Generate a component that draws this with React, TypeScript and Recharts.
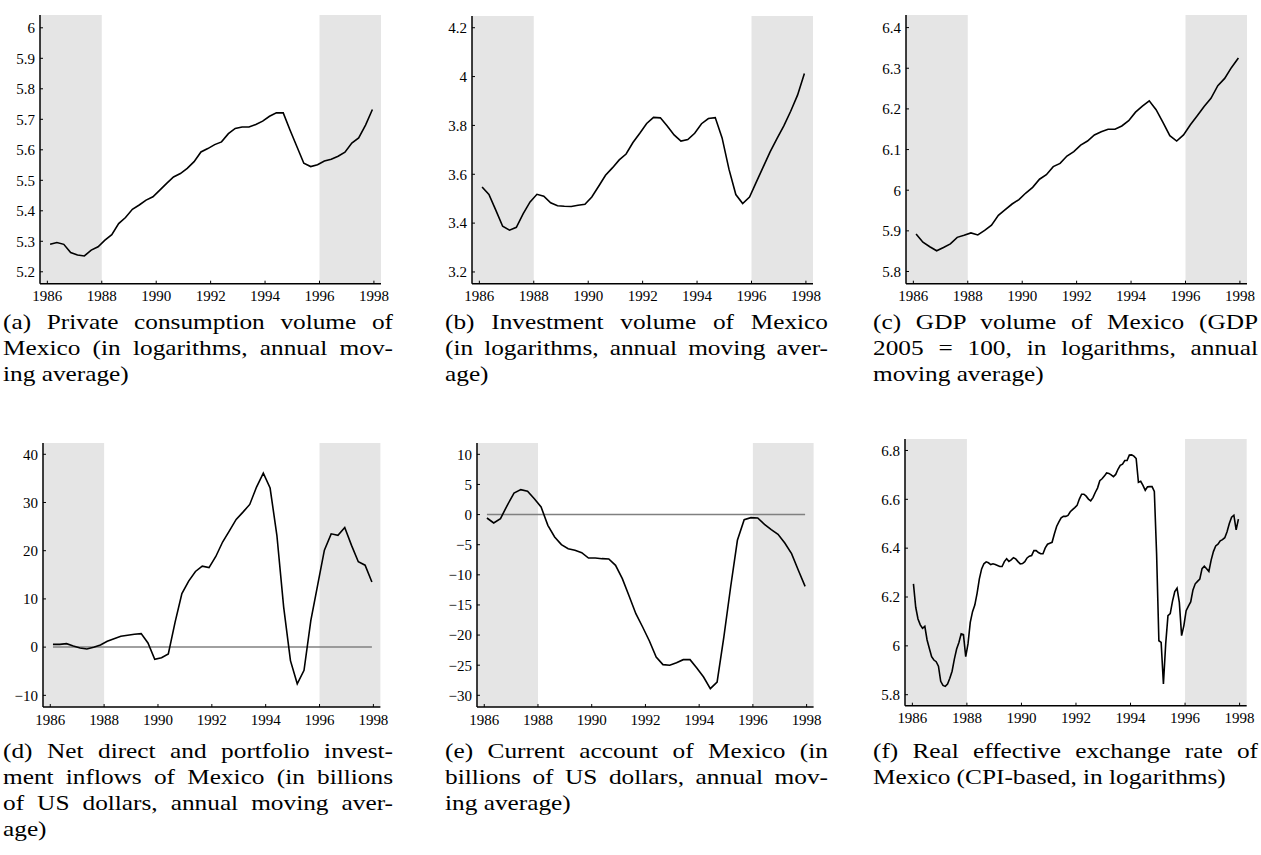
import React from 'react';
import { LineChart, Line, XAxis, YAxis, ReferenceArea, ReferenceLine } from 'recharts';

// quarterly observations (annual moving averages), first quarter of 1986 to last of 1997
const QUARTERS = Array.from({ length: 48 }, (_, i) => 1986.1 + i * 0.252);
// monthly observations, Jan 1986 to Dec 1997
const MONTHS = Array.from({ length: 144 }, (_, i) => 1986.04 + i / 12);
const YEAR_TICKS = [1986, 1988, 1990, 1992, 1994, 1996, 1998];
const X_DOMAIN = [1985.73, 1998.26];
const SHADES = [
  [1985.73, 1988],
  [1996, 1998.26],
];

const consumption = [
  5.29, 5.296, 5.29, 5.263, 5.255, 5.252, 5.271, 5.282, 5.304, 5.322, 5.358, 5.378,
  5.405, 5.419, 5.435, 5.446, 5.468, 5.49, 5.511, 5.522, 5.539, 5.561, 5.593, 5.604,
  5.617, 5.626, 5.653, 5.67, 5.675, 5.675, 5.683, 5.694, 5.71, 5.721, 5.721, 5.664,
  5.61, 5.556, 5.545, 5.551, 5.563, 5.569, 5.579, 5.592, 5.622, 5.639, 5.681, 5.732,
];

const investment = [
  3.548, 3.517, 3.453, 3.387, 3.371, 3.383, 3.439, 3.487, 3.518, 3.51, 3.483, 3.471,
  3.469, 3.468, 3.473, 3.477, 3.507, 3.551, 3.596, 3.626, 3.659, 3.683, 3.73, 3.768,
  3.808, 3.833, 3.831, 3.798, 3.761, 3.736, 3.742, 3.768, 3.807, 3.828, 3.832, 3.749,
  3.621, 3.517, 3.48, 3.507, 3.569, 3.63, 3.692, 3.746, 3.798, 3.858, 3.924, 4.013,
];

const gdp = [
  5.892, 5.872, 5.861, 5.851, 5.859, 5.868, 5.884, 5.889, 5.895, 5.89, 5.901, 5.914,
  5.938, 5.952, 5.966, 5.977, 5.993, 6.007, 6.027, 6.038, 6.058, 6.066, 6.084, 6.095,
  6.111, 6.121, 6.136, 6.144, 6.15, 6.15, 6.158, 6.171, 6.192, 6.207, 6.22, 6.198,
  6.167, 6.134, 6.121, 6.136, 6.161, 6.183, 6.206, 6.226, 6.257, 6.275, 6.302, 6.325,
];

const capitalInflows = [
  0.58, 0.58, 0.72, 0.24, -0.18, -0.39, -0.04, 0.44, 1.2, 1.76, 2.24, 2.45,
  2.66, 2.8, 0.86, -2.53, -2.2, -1.4, 5.2, 11.1, 13.7, 15.7, 16.8, 16.5,
  18.8, 21.8, 24.1, 26.5, 28.0, 29.6, 33.2, 36.1, 33.0, 23.2, 8.3, -2.8,
  -7.6, -4.8, 5.5, 12.8, 20.1, 23.5, 23.2, 24.8, 21.1, 17.7, 17.0, 13.5,
];

const currentAccount = [
  -0.57, -1.4, -0.68, 1.54, 3.58, 4.14, 3.86, 2.64, 1.26, -1.78, -3.72, -4.99,
  -5.66, -5.93, -6.32, -7.21, -7.21, -7.32, -7.37, -8.42, -10.64, -13.51, -16.45, -18.66,
  -20.98, -23.64, -24.91, -25.02, -24.58, -24.08, -24.08, -25.46, -26.96, -28.89, -27.79, -20.32,
  -12.02, -4.27, -0.84, -0.51, -0.57, -1.62, -2.5, -3.28, -4.72, -6.49, -9.25, -11.91,
];

const reer = [
  6.254, 6.158, 6.11, 6.086, 6.072, 6.08, 6.024, 5.989, 5.956, 5.942, 5.935, 5.917,
  5.855, 5.838, 5.834, 5.844, 5.867, 5.896, 5.946, 5.987, 6.014, 6.049, 6.046, 5.956,
  6.008, 6.096, 6.14, 6.167, 6.215, 6.274, 6.315, 6.336, 6.344, 6.34, 6.333, 6.336,
  6.333, 6.329, 6.325, 6.325, 6.345, 6.357, 6.346, 6.352, 6.361, 6.356, 6.345, 6.336,
  6.337, 6.345, 6.36, 6.367, 6.37, 6.39, 6.39, 6.382, 6.377, 6.377, 6.401, 6.416,
  6.42, 6.424, 6.458, 6.489, 6.508, 6.524, 6.53, 6.53, 6.534, 6.549, 6.558, 6.566,
  6.575, 6.601, 6.621, 6.621, 6.613, 6.601, 6.594, 6.607, 6.628, 6.646, 6.676, 6.684,
  6.695, 6.708, 6.706, 6.7, 6.693, 6.702, 6.723, 6.739, 6.744, 6.759, 6.759, 6.781,
  6.782, 6.777, 6.767, 6.67, 6.674, 6.657, 6.637, 6.651, 6.652, 6.652, 6.632, 6.376,
  6.021, 6.014, 5.844, 6.008, 6.124, 6.132, 6.183, 6.222, 6.236, 6.178, 6.042, 6.083,
  6.144, 6.163, 6.18, 6.229, 6.254, 6.264, 6.273, 6.316, 6.326, 6.316, 6.305, 6.351,
  6.386, 6.409, 6.416, 6.43, 6.435, 6.443, 6.467, 6.501, 6.527, 6.535, 6.475, 6.519,
];

const FONT = '"Liberation Serif", "Times New Roman", serif';
// the reference page is slightly stretched horizontally
const CAPTION_STRETCH = 1.15;

const fmt = (v: number) => {
  const s = String(Math.round(Math.abs(v) * 100) / 100);
  return v < 0 ? '\u2212' + s : s;
};

type Panel = {
  id: string;
  x: number[];
  values: number[];
  // plot box in page pixels: left, top, right, bottom
  box: [number, number, number, number];
  yDomain: [number, number];
  yTicks: number[];
  zero?: boolean;
  caption: string[];
  capLeft: number;
  capTop: number;
  capWidth: number;
};

const PANELS: Panel[] = [
  {
    id: 'a', x: QUARTERS, values: consumption,
    box: [40, 15, 381, 283.7], yDomain: [5.161, 6.042],
    yTicks: [5.2, 5.3, 5.4, 5.5, 5.6, 5.7, 5.8, 5.9, 6],
    caption: ['(a) Private consumption volume of', 'Mexico (in logarithms, annual mov-', 'ing average)'],
    capLeft: 3, capTop: 309, capWidth: 390,
  },
  {
    id: 'b', x: QUARTERS, values: investment,
    box: [472.3, 16, 813.3, 283.7], yDomain: [3.152, 4.248],
    yTicks: [3.2, 3.4, 3.6, 3.8, 4, 4.2],
    caption: ['(b) Investment volume of Mexico', '(in logarithms, annual moving aver-', 'age)'],
    capLeft: 445, capTop: 309, capWidth: 383,
  },
  {
    id: 'c', x: QUARTERS, values: gdp,
    box: [905.7, 15, 1246.7, 283.7], yDomain: [5.77, 6.431],
    yTicks: [5.8, 5.9, 6, 6.1, 6.2, 6.3, 6.4],
    caption: ['(c) GDP volume of Mexico (GDP', '2005 = 100, in logarithms, annual', 'moving average)'],
    capLeft: 873, capTop: 309, capWidth: 385,
  },
  {
    id: 'd', x: QUARTERS, values: capitalInflows, zero: true,
    box: [43.3, 442.7, 380.7, 706.7], yDomain: [-12.42, 42.34],
    yTicks: [-10, 0, 10, 20, 30, 40],
    caption: [
      '(d) Net direct and portfolio invest-',
      'ment inflows of Mexico (in billions',
      'of US dollars, annual moving aver-',
      'age)',
    ],
    capLeft: 3, capTop: 738, capWidth: 390,
  },
  {
    id: 'e', x: QUARTERS, values: currentAccount, zero: true,
    box: [476.7, 442.7, 813.3, 706.7], yDomain: [-31.94, 11.88],
    yTicks: [-30, -25, -20, -15, -10, -5, 0, 5, 10],
    caption: ['(e) Current account of Mexico (in', 'billions of US dollars, annual mov-', 'ing average)'],
    capLeft: 445, capTop: 738, capWidth: 383,
  },
  {
    id: 'f', x: MONTHS, values: reer,
    box: [905, 439.3, 1246.7, 706], yDomain: [5.755, 6.847],
    yTicks: [5.8, 6, 6.2, 6.4, 6.6, 6.8],
    caption: ['(f) Real effective exchange rate of', 'Mexico (CPI-based, in logarithms)'],
    capLeft: 873, capTop: 738, capWidth: 385,
  },
];

const Y_AXIS_W = 60;
const X_AXIS_H = 30;
const PAD_TOP = 5;
const PAD_RIGHT = 14;

function SubChart({ p }: { p: Panel }) {
  const [x0, y0, x1, y1] = p.box;
  const rows = p.x.map((t, i) => ({ t, v: p.values[i] }));
  const width = x1 - x0 + Y_AXIS_W + PAD_RIGHT;
  const height = y1 - y0 + X_AXIS_H + PAD_TOP;
  const tick = { fill: '#000', fontSize: 15, fontFamily: FONT };
  return (
    <div style={{ position: 'absolute', left: x0 - Y_AXIS_W, top: y0 - PAD_TOP }}>
      <LineChart
        width={width}
        height={height}
        data={rows}
        margin={{ top: PAD_TOP, right: PAD_RIGHT, bottom: 0, left: 0 }}
        style={{ overflow: 'visible' }}
      >
        {SHADES.map(([a, b], i) => (
          <ReferenceArea key={i} x1={a} x2={b} fill="#e5e5e5" fillOpacity={1} stroke="none" />
        ))}
        <XAxis
          type="number"
          dataKey="t"
          domain={X_DOMAIN}
          ticks={YEAR_TICKS}
          interval={0}
          allowDataOverflow
          height={X_AXIS_H}
          axisLine={{ stroke: '#000', strokeWidth: 1.5 }}
          tickLine={{ stroke: '#000', strokeWidth: 1 }}
          tickSize={-3}
          tickMargin={10}
          tick={tick}
        />
        <YAxis
          type="number"
          domain={p.yDomain}
          ticks={p.yTicks}
          interval={0}
          allowDataOverflow
          width={Y_AXIS_W}
          axisLine={{ stroke: '#000', strokeWidth: 1.5 }}
          tickLine={{ stroke: '#000', strokeWidth: 1 }}
          tickSize={-3}
          tickMargin={8}
          tick={tick}
          tickFormatter={fmt}
        />
        {p.zero && (
          <ReferenceLine
            segment={[{ x: p.x[0], y: 0 }, { x: p.x[p.x.length - 1], y: 0 }]}
            stroke="#808080"
            strokeWidth={1.5}
          />
        )}
        <Line
          type="linear"
          dataKey="v"
          stroke="#000"
          strokeWidth={1.6}
          dot={false}
          isAnimationActive={false}
        />
      </LineChart>
    </div>
  );
}

function Caption({ p }: { p: Panel }) {
  return (
    <div
      style={{
        position: 'absolute',
        left: p.capLeft,
        top: p.capTop,
        width: p.capWidth / CAPTION_STRETCH,
        transform: `scaleX(${CAPTION_STRETCH})`,
        transformOrigin: '0 0',
        fontFamily: FONT,
        fontSize: 22,
        lineHeight: '26px',
        color: '#000',
      }}
    >
      {p.caption.map((line, i) => {
        const last = i === p.caption.length - 1;
        return (
          <div
            key={i}
            style={{
              textAlign: last ? 'left' : 'justify',
              textAlignLast: last ? 'left' : 'justify',
            }}
          >
            {line}
          </div>
        );
      })}
    </div>
  );
}

export default function App() {
  return (
    <div
      style={{
        position: 'absolute',
        left: 0,
        top: 0,
        width: 1261,
        height: 855,
        background: '#fff',
        fontFamily: FONT,
      }}
    >
      {PANELS.map((p) => (
        <React.Fragment key={p.id}>
          <SubChart p={p} />
          <Caption p={p} />
        </React.Fragment>
      ))}
    </div>
  );
}
